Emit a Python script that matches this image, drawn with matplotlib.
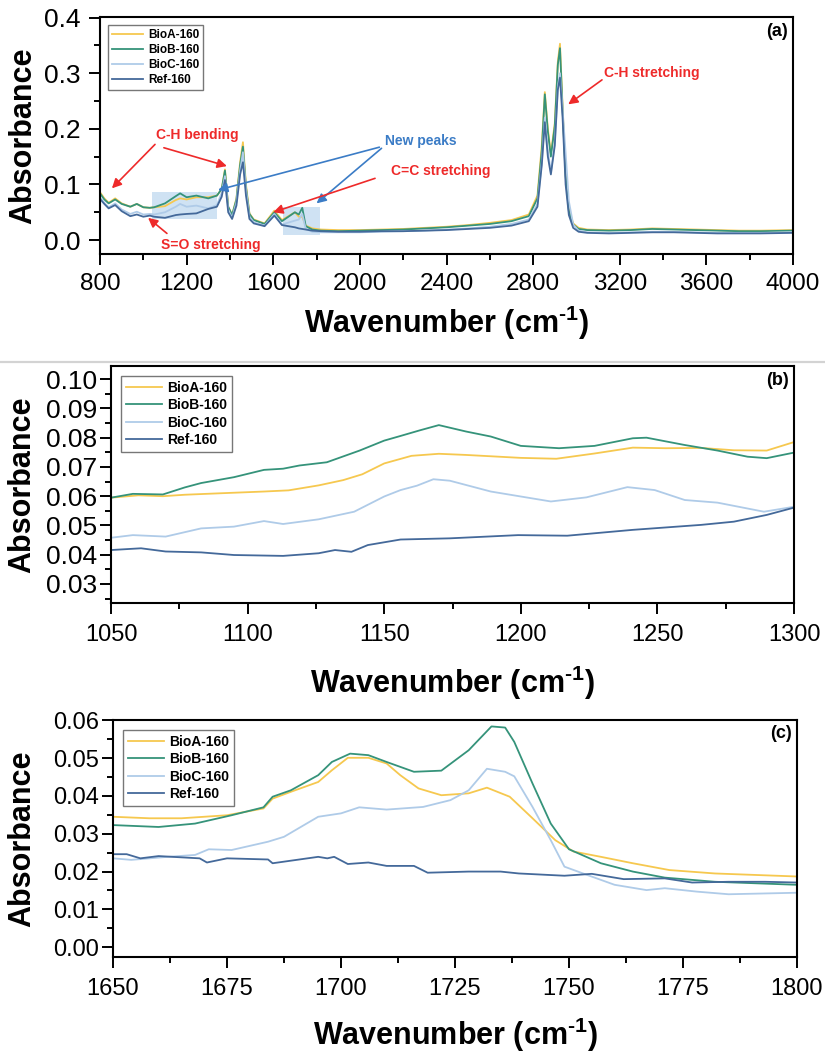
"""
FTIR absorbance spectra of the 160 samples (BioA / BioB / BioC / Ref).

(a) full range 800-4000 cm-1 with band assignments
(b) zoom on 1050-1300 cm-1
(c) zoom on 1650-1800 cm-1
"""

import matplotlib
matplotlib.use("Agg")
import matplotlib.pyplot as plt
from matplotlib import font_manager
from matplotlib.lines import Line2D
from matplotlib.patches import Rectangle
from matplotlib.ticker import MultipleLocator, FormatStrFormatter

plt.rcParams["font.family"] = "Liberation Sans"
plt.rcParams["mathtext.fontset"] = "custom"
plt.rcParams["mathtext.rm"] = "Liberation Sans:bold"
plt.rcParams["mathtext.bf"] = "Liberation Sans:bold"

_fonts = {f.name for f in font_manager.fontManager.ttflist}
HAS_NARROW = "Liberation Sans Narrow" in _fonts
NARROW = "Liberation Sans Narrow" if HAS_NARROW else "Liberation Sans"

NAMES = ["BioA-160", "BioB-160", "BioC-160", "Ref-160"]
COLORS = ["#F6C84F", "#35937A", "#AFCBE8", "#44699A"]
RED = "#EE2A2A"
BLUE = "#3B7CC6"

# ---- (a) full spectrum, shared wavenumber grid ----
A_WN = [800, 820, 840, 870, 900, 940, 970, 1000, 1030, 1050,
        1100, 1150, 1170, 1200, 1245, 1300, 1340, 1362, 1377, 1392,
        1410, 1430, 1447, 1460, 1474, 1490, 1510, 1560, 1605, 1640,
        1700, 1718, 1734, 1750, 1780, 1820, 1900, 2000, 2100, 2200,
        2300, 2400, 2500, 2600, 2700, 2780, 2820, 2840, 2854, 2868,
        2882, 2900, 2914, 2924, 2936, 2950, 2965, 2985, 3010, 3050,
        3150, 3250, 3350, 3450, 3550, 3650, 3750, 3850, 4000]
A_BIOA = [0.086, 0.075, 0.067, 0.075, 0.066, 0.060, 0.065, 0.059, 0.058, 0.059,
          0.061, 0.072, 0.075, 0.073, 0.077, 0.077, 0.080, 0.092, 0.127, 0.060,
          0.045, 0.075, 0.140, 0.176, 0.100, 0.048, 0.037, 0.030, 0.053, 0.036,
          0.050, 0.042, 0.042, 0.026, 0.021, 0.019, 0.018, 0.018, 0.019, 0.020,
          0.022, 0.024, 0.027, 0.031, 0.036, 0.046, 0.080, 0.170, 0.266, 0.200,
          0.155, 0.210, 0.320, 0.353, 0.240, 0.120, 0.055, 0.030, 0.022, 0.019,
          0.018, 0.019, 0.021, 0.020, 0.019, 0.018, 0.017, 0.017, 0.018]
A_BIOB = [0.084, 0.073, 0.066, 0.073, 0.065, 0.060, 0.065, 0.059, 0.058, 0.059,
          0.066, 0.079, 0.084, 0.077, 0.080, 0.075, 0.080, 0.092, 0.125, 0.060,
          0.045, 0.073, 0.135, 0.168, 0.095, 0.047, 0.036, 0.029, 0.050, 0.034,
          0.050, 0.046, 0.058, 0.025, 0.019, 0.017, 0.016, 0.017, 0.018, 0.019,
          0.021, 0.023, 0.026, 0.029, 0.034, 0.043, 0.075, 0.160, 0.262, 0.195,
          0.150, 0.205, 0.315, 0.345, 0.235, 0.115, 0.052, 0.028, 0.020, 0.018,
          0.017, 0.018, 0.020, 0.019, 0.018, 0.017, 0.016, 0.016, 0.017]
A_BIOC = [0.077, 0.067, 0.059, 0.066, 0.055, 0.047, 0.051, 0.046, 0.047, 0.046,
          0.050, 0.060, 0.065, 0.060, 0.062, 0.057, 0.063, 0.085, 0.115, 0.055,
          0.040, 0.068, 0.125, 0.158, 0.090, 0.042, 0.032, 0.026, 0.047, 0.028,
          0.035, 0.037, 0.047, 0.020, 0.015, 0.014, 0.014, 0.014, 0.015, 0.016,
          0.017, 0.019, 0.021, 0.024, 0.029, 0.037, 0.065, 0.140, 0.220, 0.160,
          0.122, 0.175, 0.275, 0.300, 0.235, 0.157, 0.070, 0.028, 0.017, 0.014,
          0.013, 0.014, 0.015, 0.015, 0.014, 0.013, 0.013, 0.013, 0.014]
A_REF = [0.074, 0.065, 0.057, 0.063, 0.052, 0.043, 0.046, 0.042, 0.044, 0.042,
         0.040, 0.045, 0.046, 0.047, 0.048, 0.056, 0.060, 0.078, 0.108, 0.050,
         0.038, 0.062, 0.118, 0.140, 0.080, 0.038, 0.030, 0.025, 0.044, 0.027,
         0.023, 0.021, 0.020, 0.019, 0.017, 0.016, 0.015, 0.015, 0.016, 0.016,
         0.017, 0.018, 0.020, 0.022, 0.026, 0.034, 0.060, 0.135, 0.212, 0.150,
         0.118, 0.170, 0.270, 0.292, 0.220, 0.100, 0.045, 0.022, 0.015, 0.013,
         0.012, 0.013, 0.014, 0.014, 0.013, 0.012, 0.012, 0.012, 0.013]

# ---- (b) 1050-1300 cm-1 ----
B_BIOA_WN = [1050, 1060, 1069, 1077, 1090, 1106, 1115, 1126, 1135, 1142, 1150, 1160,
             1170, 1180, 1190, 1200, 1213, 1227, 1241, 1253, 1266, 1278, 1290, 1300]
B_BIOA = [0.0595, 0.0603, 0.0600, 0.0605, 0.0610, 0.0616, 0.0620, 0.0637, 0.0655, 0.0675,
          0.0712, 0.0738, 0.0745, 0.0741, 0.0736, 0.0731, 0.0728, 0.0746, 0.0766, 0.0764,
          0.0765, 0.0757, 0.0756, 0.0785]
B_BIOB_WN = [1050, 1058, 1069, 1077, 1083, 1095, 1106, 1113, 1119, 1129, 1141, 1150, 1156,
             1163, 1170, 1180, 1189, 1200, 1214, 1227, 1241, 1246, 1260, 1272, 1283, 1290, 1300]
B_BIOB = [0.0595, 0.0608, 0.0606, 0.0630, 0.0645, 0.0665, 0.0690, 0.0694, 0.0705, 0.0716,
          0.0756, 0.0790, 0.0806, 0.0825, 0.0843, 0.0821, 0.0804, 0.0772, 0.0764, 0.0772,
          0.0798, 0.0800, 0.0775, 0.0756, 0.0735, 0.0730, 0.0749]
B_BIOC_WN = [1050, 1058, 1070, 1083, 1095, 1106, 1113, 1126, 1139, 1150, 1156, 1162,
             1168, 1174, 1189, 1200, 1211, 1224, 1239, 1249, 1260, 1272, 1289, 1300]
B_BIOC = [0.0458, 0.0467, 0.0462, 0.0490, 0.0496, 0.0515, 0.0505, 0.0521, 0.0547, 0.0599,
          0.0621, 0.0636, 0.0658, 0.0653, 0.0616, 0.0599, 0.0582, 0.0596, 0.0631, 0.0621,
          0.0587, 0.0578, 0.0547, 0.0564]
B_REF_WN = [1050, 1061, 1070, 1083, 1095, 1113, 1126, 1132, 1138, 1144, 1156, 1174,
            1199, 1217, 1241, 1266, 1278, 1290, 1300]
B_REF = [0.0416, 0.0422, 0.0411, 0.0408, 0.0399, 0.0396, 0.0405, 0.0416, 0.0410, 0.0433,
         0.0452, 0.0456, 0.0467, 0.0465, 0.0485, 0.0502, 0.0513, 0.0536, 0.0561]

# ---- (c) 1650-1800 cm-1 ----
C_BIOA_WN = [1650, 1658, 1665, 1675, 1683, 1685, 1689, 1695, 1698, 1701.5, 1706, 1710, 1713,
             1717, 1722, 1728, 1732, 1737, 1742, 1747, 1751, 1757, 1764, 1772, 1782, 1800]
C_BIOA = [0.0345, 0.0341, 0.0341, 0.0349, 0.0367, 0.0393, 0.0411, 0.0437, 0.0468, 0.0501,
          0.0501, 0.0486, 0.0455, 0.0420, 0.0402, 0.0407, 0.0422, 0.0398, 0.0341, 0.0283,
          0.0253, 0.0239, 0.0222, 0.0204, 0.0195, 0.0187]
C_BIOB_WN = [1650, 1660, 1668, 1676, 1683, 1685, 1689, 1695, 1698, 1702, 1706, 1710, 1716,
             1722, 1728, 1733, 1736, 1738, 1742, 1746, 1750, 1757, 1764, 1771, 1782, 1800]
C_BIOB = [0.0323, 0.0318, 0.0327, 0.0349, 0.0370, 0.0398, 0.0415, 0.0455, 0.0490, 0.0512,
          0.0508, 0.0490, 0.0464, 0.0467, 0.0521, 0.0584, 0.0581, 0.0543, 0.0433, 0.0327,
          0.0259, 0.0222, 0.0200, 0.0184, 0.0173, 0.0165]
C_BIOC_WN = [1650, 1654, 1662, 1668, 1671, 1676, 1684, 1687.5, 1695, 1700, 1704, 1710, 1718,
             1724, 1728, 1732, 1736, 1738, 1742, 1746, 1749, 1754, 1760, 1767, 1771, 1778,
             1785, 1800]
C_BIOC = [0.0235, 0.0231, 0.0239, 0.0244, 0.0259, 0.0257, 0.0279, 0.0292, 0.0345, 0.0354,
          0.0370, 0.0364, 0.0371, 0.0389, 0.0415, 0.0472, 0.0464, 0.0452, 0.0371, 0.0283,
          0.0213, 0.0191, 0.0165, 0.0151, 0.0156, 0.0147, 0.0140, 0.0144]
C_REF_WN = [1650, 1653, 1656, 1660, 1669, 1670.6, 1675, 1684, 1685, 1695, 1697, 1698.5,
            1701.5, 1706, 1710, 1716, 1719, 1728, 1735, 1739, 1749, 1755, 1762, 1771, 1777,
            1785, 1793, 1800]
C_REF = [0.0246, 0.0246, 0.0235, 0.0241, 0.0235, 0.0224, 0.0235, 0.0232, 0.0222, 0.0239,
         0.0235, 0.0239, 0.0220, 0.0224, 0.0215, 0.0215, 0.0197, 0.0200, 0.0200, 0.0195,
         0.0189, 0.0194, 0.0180, 0.0182, 0.0171, 0.0173, 0.0173, 0.0171]

# highlighted regions in (a): (wn0, wn1, A0, A1)
NEW_PEAK_BOXES = [(1040, 1340, 0.038, 0.086), (1645, 1815, 0.009, 0.059)]

# band labels in (a): text, colour, text position, arrow tails/heads
BANDS = [
    ("C-H bending", RED, (1250, 0.188), [((1054, 0.172), (855, 0.093)),
                                         ((1095, 0.166), (1386, 0.133))]),
    ("S=O stretching", RED, (1310, -0.008), [((1109, 0.012), (1022, 0.040))]),
    ("New peaks", BLUE, (2280, 0.178), [((2090, 0.167), (1345, 0.090)),
                                       ((2100, 0.165), (1800, 0.066))]),
    ("C=C stretching", RED, (2375, 0.124), [((2070, 0.111), (1600, 0.050))]),
    ("C-H stretching", RED, (3350, 0.300), [((3118, 0.288), (2962, 0.244))]),
]

XLABEL = r"Wavenumber (cm$^{\text{-1}}$)"


def style_axis(ax, xlim, ylim, xmaj, xmin, ymaj, ymin, yfmt, xsize, ysize,
               xfont="Liberation Sans", xpad=4.5):
    ax.set_xlim(*xlim)
    ax.set_ylim(*ylim)
    ax.xaxis.set_major_locator(MultipleLocator(xmaj))
    ax.xaxis.set_minor_locator(MultipleLocator(xmin))
    ax.yaxis.set_major_locator(MultipleLocator(ymaj))
    ax.yaxis.set_minor_locator(MultipleLocator(ymin))
    ax.yaxis.set_major_formatter(FormatStrFormatter(yfmt))
    ax.tick_params(which="both", direction="out", width=1.4, top=False, right=False)
    ax.tick_params(which="major", length=8)
    ax.tick_params(which="minor", length=4)
    ax.tick_params(axis="x", labelsize=xsize, pad=xpad)
    ax.tick_params(axis="y", labelsize=ysize, pad=2)
    for lab in ax.get_xticklabels():
        lab.set_family(xfont)
    for sp in ax.spines.values():
        sp.set_linewidth(1.5)


def axis_labels(ax, xl_y, yl_x):
    ax.set_xlabel(XLABEL, fontsize=22, fontweight="bold", va="center")
    ax.set_ylabel("Absorbance", fontsize=22, fontweight="bold", va="center")
    ax.xaxis.set_label_coords(0.5, xl_y)
    ax.yaxis.set_label_coords(yl_x, 0.5)


def add_legend(ax, size):
    leg = ax.legend(loc="upper left", frameon=True, fancybox=False,
                    borderaxespad=0.7, handlelength=2.6, handletextpad=0.4,
                    labelspacing=0.25, borderpad=0.35, prop={"weight": "bold", "size": size})
    leg.get_frame().set_edgecolor("#555555")
    leg.get_frame().set_linewidth(1.0)


W, H = 825, 1055
fig = plt.figure(figsize=(W / 100, H / 100), dpi=100)

ax_a = fig.add_axes([100 / W, 1 - 254 / H, 693 / W, 237 / H])
ax_b = fig.add_axes([111 / W, 1 - 603 / H, 683 / W, 237 / H])
ax_c = fig.add_axes([113 / W, 1 - 957 / H, 684 / W, 237 / H])

# (a)
for ys, name, col in zip([A_BIOA, A_BIOB, A_BIOC, A_REF], NAMES, COLORS):
    ax_a.plot(A_WN, ys, color=col, lw=1.3, label=name)
for x0, x1, y0, y1 in NEW_PEAK_BOXES:
    ax_a.add_patch(Rectangle((x0, y0), x1 - x0, y1 - y0, facecolor="#A9CBEA",
                             alpha=0.55, lw=0, zorder=1))
for text, col, pos, arrows in BANDS:
    ax_a.text(*pos, text, color=col, fontsize=10, fontweight="bold",
              ha="center", va="center")
    for tail, head in arrows:
        ax_a.annotate("", xy=head, xytext=tail,
                      arrowprops=dict(arrowstyle="-|>", color=col, lw=1.2,
                                      mutation_scale=14, shrinkA=0, shrinkB=0))
style_axis(ax_a, (800, 4000), (-0.025, 0.401), 400, 200, 0.1, 0.05, "%.1f",
           20 if HAS_NARROW else 17.5, 19, xfont=NARROW, xpad=6)
ax_a.tick_params(axis="y", pad=6)
axis_labels(ax_a, -0.29, -0.111)
add_legend(ax_a, 8.5)
ax_a.text(0.992, 0.94, "(a)", transform=ax_a.transAxes, ha="right", va="center",
          fontsize=13, fontweight="bold")

# (b)
for xs, ys, name, col in zip([B_BIOA_WN, B_BIOB_WN, B_BIOC_WN, B_REF_WN],
                             [B_BIOA, B_BIOB, B_BIOC, B_REF], NAMES, COLORS):
    ax_b.plot(xs, ys, color=col, lw=1.3, label=name)
style_axis(ax_b, (1050, 1300), (0.0235, 0.1045), 50, 25, 0.01, 0.005, "%.2f",
           17, 19, xpad=7)
axis_labels(ax_b, -0.335, -0.130)
add_legend(ax_b, 10)
ax_b.text(0.992, 0.94, "(b)", transform=ax_b.transAxes, ha="right", va="center",
          fontsize=13, fontweight="bold")

# (c)
for xs, ys, name, col in zip([C_BIOA_WN, C_BIOB_WN, C_BIOC_WN, C_REF_WN],
                             [C_BIOA, C_BIOB, C_BIOC, C_REF], NAMES, COLORS):
    ax_c.plot(xs, ys, color=col, lw=1.3, label=name)
style_axis(ax_c, (1650, 1800), (-0.0026, 0.0601), 25, 12.5, 0.01, 0.005, "%.2f",
           17, 17, xpad=7)
axis_labels(ax_c, -0.33, -0.133)
add_legend(ax_c, 10)
ax_c.text(0.992, 0.945, "(c)", transform=ax_c.transAxes, ha="right", va="center",
          fontsize=13, fontweight="bold")

# thin separator between the overview and the zoomed panels
fig.add_artist(Line2D([0, 1], [1 - 362 / H] * 2, transform=fig.transFigure,
                      color="#d3d3d3", lw=1.6))

fig.savefig("out.png", dpi=100)
